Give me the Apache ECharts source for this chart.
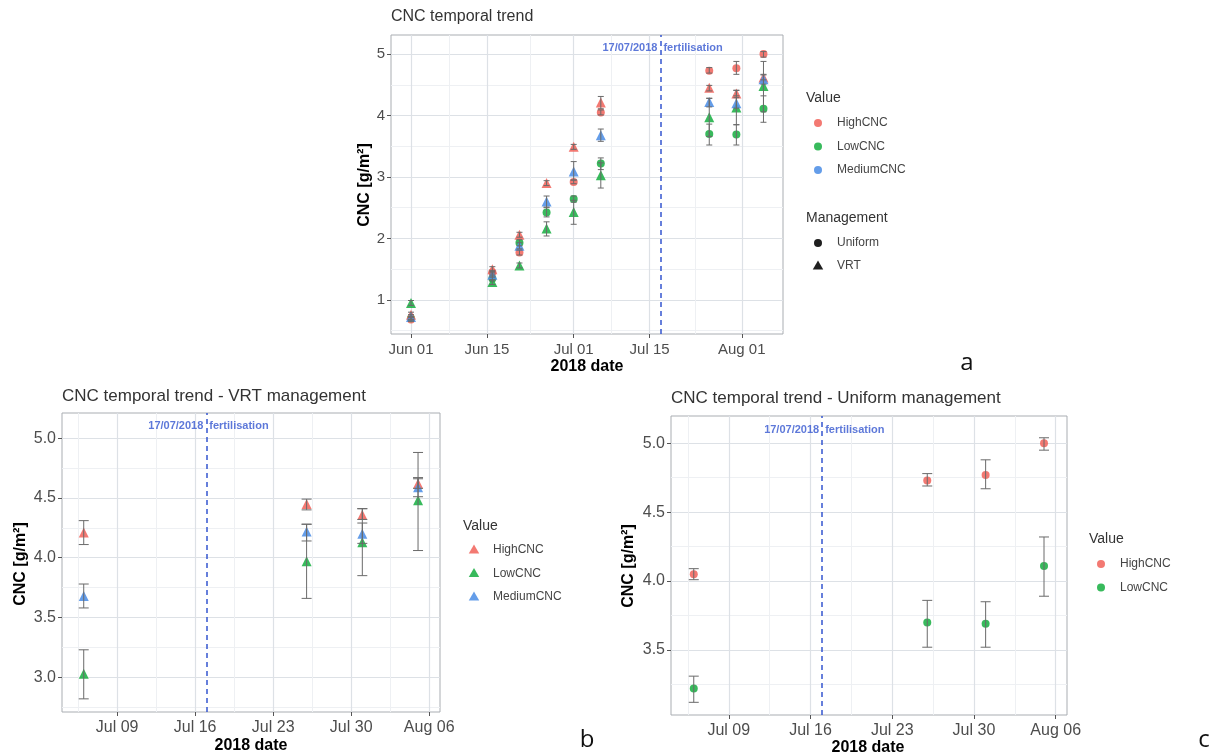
<!DOCTYPE html>
<html>
<head>
<meta charset="utf-8">
<title>CNC temporal trend</title>
<script src="https://cdn.jsdelivr.net/npm/echarts@6/dist/echarts.min.js"></script>
<style>
html, body { margin: 0; padding: 0; background: #fff; }
#main { width: 1217px; height: 756px; }
</style>
</head>
<body>
<div id="main"></div>
<script>
// sampling dates (2018)
var dates = ['2018-06-01', '2018-06-16', '2018-06-21', '2018-06-26', '2018-07-01', '2018-07-06', '2018-07-26', '2018-07-31', '2018-08-05'];
var fertDate = '2018-07-17';

// VRT management
var vrtHigh   = [0.76, 1.50, 2.06, 2.90, 3.49, 4.21, 4.45, 4.36, 4.62];
var vrtHighLo = [0.72, 1.46, 2.02, 2.86, 3.45, 4.11, 4.40, 4.32, 4.58];
var vrtHighHi = [0.80, 1.54, 2.10, 2.94, 3.53, 4.31, 4.49, 4.41, 4.67];
var vrtLow    = [0.95, 1.29, 1.56, 2.16, 2.43, 3.03, 3.97, 4.13, 4.48];
var vrtLowLo  = [0.91, 1.25, 1.52, 2.04, 2.23, 2.82, 3.66, 3.85, 4.06];
var vrtLowHi  = [0.99, 1.33, 1.60, 2.27, 2.62, 3.23, 4.28, 4.41, 4.88];
var vrtMed    = [0.72, 1.41, 1.88, 2.60, 3.09, 3.68, 4.22, 4.20, 4.59];
var vrtMedLo  = [0.68, 1.37, 1.83, 2.50, 2.95, 3.58, 4.14, 4.12, 4.51];
var vrtMedHi  = [0.76, 1.45, 1.93, 2.69, 3.25, 3.78, 4.28, 4.29, 4.66];

// Uniform management (no MediumCNC class)
var uniHigh   = [0.68, 1.45, 1.77, null, 2.92, 4.05, 4.73, 4.77, 5.00];
var uniHighLo = [0.65, 1.42, 1.73, null, 2.89, 4.01, 4.69, 4.67, 4.95];
var uniHighHi = [0.71, 1.48, 1.81, null, 2.95, 4.09, 4.78, 4.88, 5.04];
var uniLow    = [0.70, 1.35, 1.93, 2.42, 2.64, 3.22, 3.70, 3.69, 4.11];
var uniLowLo  = [0.67, 1.31, 1.88, 2.35, 2.59, 3.12, 3.52, 3.52, 3.89];
var uniLowHi  = [0.73, 1.39, 1.98, 2.51, 2.69, 3.31, 3.86, 3.85, 4.32];

// tick labels
var ticksA  = ['2018-06-01', '2018-06-15', '2018-07-01', '2018-07-15', '2018-08-01'];
var ticksBC = ['2018-07-09', '2018-07-16', '2018-07-23', '2018-07-30', '2018-08-06'];
var yTicksA = [1, 2, 3, 4, 5];
var yTicksB = [3.0, 3.5, 4.0, 4.5, 5.0];
var yTicksC = [3.5, 4.0, 4.5, 5.0];

var classNames = ['HighCNC', 'LowCNC', 'MediumCNC'];
var classColors = ['#F1665E', '#1DB046', '#4F8FE6'];

var MONTHS = ['Jan','Feb','Mar','Apr','May','Jun','Jul','Aug','Sep','Oct','Nov','Dec'];
var BASE = Date.UTC(2018, 5, 1);
function dayNum(s) {
    var p = s.split('-');
    return (Date.UTC(+p[0], +p[1] - 1, +p[2]) - BASE) / 86400000;
}
function dayLabel(v) {
    var d = new Date(BASE + Math.round(v) * 86400000);
    var dd = d.getUTCDate();
    return MONTHS[d.getUTCMonth()] + ' ' + (dd < 10 ? '0' + dd : dd);
}
// minor grid = midpoints of majors, extended half a step each side
function minors(maj, lo, hi) {
    var out = [];
    for (var i = 0; i < maj.length - 1; i++) out.push((maj[i] + maj[i + 1]) / 2);
    out.unshift(maj[0] - (maj[1] - maj[0]) / 2);
    out.push(maj[maj.length - 1] + (maj[maj.length - 1] - maj[maj.length - 2]) / 2);
    return out.filter(function (v) { return v > lo && v < hi; });
}

var xDays = dates.map(dayNum);
var fert = dayNum(fertDate);

var FONT = '"Liberation Sans", Arial, sans-serif';
var GRID_MAJOR = '#dde1e6';
var GRID_MINOR = '#eef0f3';
var FERT_BLUE = '#3556d0';

var panels = [
    { left: 391, top: 35, width: 392, height: 299, xmin: -3.69, xmax: 68.6, ymin: 0.445, ymax: 5.31,
      xt: ticksA.map(dayNum), yt: yTicksA, ydec: 0, font: 15, cap: 3, from: 0 },
    { left: 62, top: 413, width: 378, height: 299, xmin: 33.05, xmax: 66.97, ymin: 2.71, ymax: 5.21,
      xt: ticksBC.map(dayNum), yt: yTicksB, ydec: 1, font: 16, cap: 5, from: 5 },
    { left: 671, top: 416, width: 396, height: 299, xmin: 33.05, xmax: 66.97, ymin: 3.028, ymax: 5.198,
      xt: ticksBC.map(dayNum), yt: yTicksC, ydec: 1, font: 16, cap: 5, from: 5 }
];

var grids = [], xAxes = [], yAxes = [], series = [];

panels.forEach(function (p, gi) {
    grids.push({ left: p.left, top: p.top, width: p.width, height: p.height,
        show: true, borderColor: '#a9adb2', borderWidth: 1, backgroundColor: 'transparent' });
    var xm = minors(p.xt, p.xmin, p.xmax), ym = minors(p.yt, p.ymin, p.ymax);
    // minor grid axes
    xAxes.push({ type: 'value', gridIndex: gi, min: p.xmin, max: p.xmax, position: 'top',
        axisLine: { show: false, onZero: false }, axisLabel: { show: false },
        axisTick: { show: false, customValues: xm },
        splitLine: { show: true, lineStyle: { color: GRID_MINOR, width: 1 } } });
    yAxes.push({ type: 'value', gridIndex: gi, min: p.ymin, max: p.ymax, position: 'right',
        axisLine: { show: false, onZero: false }, axisLabel: { show: false },
        axisTick: { show: false, customValues: ym },
        splitLine: { show: true, lineStyle: { color: GRID_MINOR, width: 1 } } });
    // major axes
    xAxes.push({ type: 'value', gridIndex: gi, min: p.xmin, max: p.xmax, position: 'bottom',
        axisLine: { show: false, onZero: false },
        axisTick: { show: true, length: 4, customValues: p.xt, lineStyle: { color: '#555' } },
        axisLabel: { customValues: p.xt, formatter: dayLabel, color: '#4d4d4d',
            fontSize: p.font, fontFamily: FONT, margin: 8 },
        splitLine: { show: true, lineStyle: { color: GRID_MAJOR, width: 1.2 } } });
    yAxes.push({ type: 'value', gridIndex: gi, min: p.ymin, max: p.ymax, position: 'left',
        axisLine: { show: false, onZero: false },
        axisTick: { show: true, length: 4, customValues: p.yt, lineStyle: { color: '#555' } },
        axisLabel: { customValues: p.yt, color: '#4d4d4d', fontSize: p.font, fontFamily: FONT, margin: 6,
            formatter: function (v) { return v.toFixed(p.ydec); } },
        splitLine: { show: true, lineStyle: { color: GRID_MAJOR, width: 1.2 } } });
});

function errRender(cap) {
    return function (params, api) {
        var x = api.value(0);
        var a = api.coord([x, api.value(1)]), b = api.coord([x, api.value(2)]);
        var st = { stroke: '#6a6a6a', lineWidth: 1 };
        return { type: 'group', children: [
            { type: 'line', shape: { x1: a[0], y1: a[1], x2: b[0], y2: b[1] }, style: st },
            { type: 'line', shape: { x1: a[0] - cap, y1: a[1], x2: a[0] + cap, y2: a[1] }, style: st },
            { type: 'line', shape: { x1: b[0] - cap, y1: b[1], x2: b[0] + cap, y2: b[1] }, style: st }
        ] };
    };
}

function addGroup(gi, vals, lo, hi, ci, shape) {
    var p = panels[gi];
    var xi = gi * 2 + 1, yi = gi * 2 + 1;
    var err = [], pts = [];
    for (var i = p.from; i < vals.length; i++) {
        if (vals[i] == null) continue;
        err.push([xDays[i], lo[i], hi[i]]);
        pts.push([xDays[i], vals[i]]);
    }
    series.push({ type: 'scatter', name: classNames[ci], xAxisIndex: xi, yAxisIndex: yi,
        symbol: shape, symbolSize: shape === 'circle' ? 8 : 10,
        itemStyle: { color: classColors[ci], opacity: 0.88 }, data: pts, z: 3, silent: true });
    series.push({ type: 'custom', xAxisIndex: xi, yAxisIndex: yi, renderItem: errRender(p.cap),
        encode: { x: 0, y: [1, 2] }, data: err, z: 4, silent: true });
}

function addFert(gi) {
    var xi = gi * 2 + 1, yi = gi * 2 + 1;
    var lab = { show: true, color: FERT_BLUE, fontWeight: 'bold', fontSize: 11, fontFamily: FONT, distance: 3 };
    series.push({ type: 'scatter', xAxisIndex: xi, yAxisIndex: yi, symbolSize: 0, silent: true, z: 5,
        data: [
            { value: [fert, 5.1], label: Object.assign({ position: 'left', formatter: '17/07/2018' }, lab) },
            { value: [fert, 5.1], label: Object.assign({ position: 'right', formatter: 'fertilisation' }, lab) }
        ],
        markLine: { silent: true, symbol: 'none', label: { show: false },
            lineStyle: { color: FERT_BLUE, type: [5, 4], width: 1.5 },
            data: [{ xAxis: fert }] } });
}

// panel a: both managements
addGroup(0, uniHigh, uniHighLo, uniHighHi, 0, 'circle');
addGroup(0, uniLow, uniLowLo, uniLowHi, 1, 'circle');
addGroup(0, vrtHigh, vrtHighLo, vrtHighHi, 0, 'triangle');
addGroup(0, vrtLow, vrtLowLo, vrtLowHi, 1, 'triangle');
addGroup(0, vrtMed, vrtMedLo, vrtMedHi, 2, 'triangle');
addFert(0);
// panel b: VRT
addGroup(1, vrtHigh, vrtHighLo, vrtHighHi, 0, 'triangle');
addGroup(1, vrtLow, vrtLowLo, vrtLowHi, 1, 'triangle');
addGroup(1, vrtMed, vrtMedLo, vrtMedHi, 2, 'triangle');
addFert(1);
// panel c: Uniform
addGroup(2, uniHigh, uniHighLo, uniHighHi, 0, 'circle');
addGroup(2, uniLow, uniLowLo, uniLowHi, 1, 'circle');
addFert(2);

// texts & legends
var g = [];
function txt(s, x, y, size, opt) {
    opt = opt || {};
    g.push({ type: 'text', x: x, y: y, rotation: opt.rot || 0, silent: true,
        style: { text: s, fill: opt.color || '#333', font: (opt.bold ? 'bold ' : '') + size + 'px ' + (opt.family || FONT),
            align: opt.align || 'left', verticalAlign: 'middle' } });
}
function tri(x, y, r, color) {
    g.push({ type: 'polygon', silent: true, shape: { points: [[x, y - r], [x + r * 0.95, y + r * 0.65], [x - r * 0.95, y + r * 0.65]] },
        style: { fill: color, opacity: 0.88 } });
}
function dot(x, y, r, color) {
    g.push({ type: 'circle', silent: true, shape: { cx: x, cy: y, r: r }, style: { fill: color, opacity: 0.88 } });
}

txt('CNC temporal trend', 391, 17, 16);
txt('CNC temporal trend - VRT management', 62, 396, 17);
txt('CNC temporal trend - Uniform management', 671, 398, 17);

txt('CNC [g/m²]', 365, 185, 16, { bold: true, color: '#000', align: 'center', rot: Math.PI / 2 });
txt('2018 date', 587, 367, 16, { bold: true, color: '#000', align: 'center' });
txt('CNC [g/m²]', 21, 564, 16, { bold: true, color: '#000', align: 'center', rot: Math.PI / 2 });
txt('2018 date', 251, 746, 16, { bold: true, color: '#000', align: 'center' });
txt('CNC [g/m²]', 629, 566, 16, { bold: true, color: '#000', align: 'center', rot: Math.PI / 2 });
txt('2018 date', 868, 748, 16, { bold: true, color: '#000', align: 'center' });

// legend a
txt('Value', 806, 98, 14);
[0, 1, 2].forEach(function (ci) {
    dot(818, 123 + ci * 23.5, 4, classColors[ci]);
    txt(classNames[ci], 837, 123 + ci * 23.5, 12, { color: '#444' });
});
txt('Management', 806, 218, 14);
dot(818, 243, 4, '#000');
txt('Uniform', 837, 243, 12, { color: '#444' });
tri(818, 266, 5.5, '#000');
txt('VRT', 837, 266, 12, { color: '#444' });

// legend b
txt('Value', 463, 526, 14);
[0, 1, 2].forEach(function (ci) {
    tri(474, 550 + ci * 23.5, 5.5, classColors[ci]);
    txt(classNames[ci], 493, 550 + ci * 23.5, 12, { color: '#444' });
});

// legend c
txt('Value', 1089, 539, 14);
[0, 1].forEach(function (ci) {
    dot(1101, 564 + ci * 23.5, 4, classColors[ci]);
    txt(classNames[ci], 1120, 564 + ci * 23.5, 12, { color: '#444' });
});

// panel letters
txt('a', 967, 363, 24, { color: '#111', align: 'center', family: '"Open Sans", sans-serif' });
txt('b', 587, 740, 24, { color: '#111', align: 'center', family: '"Open Sans", sans-serif' });
txt('c', 1204, 740, 24, { color: '#111', align: 'center', family: '"Open Sans", sans-serif' });

var chart = echarts.init(document.getElementById('main'), null, { renderer: 'canvas' });
chart.setOption({
    animation: false,
    backgroundColor: '#fff',
    grid: grids,
    xAxis: xAxes,
    yAxis: yAxes,
    series: series,
    graphic: g
});
</script>
</body>
</html>
